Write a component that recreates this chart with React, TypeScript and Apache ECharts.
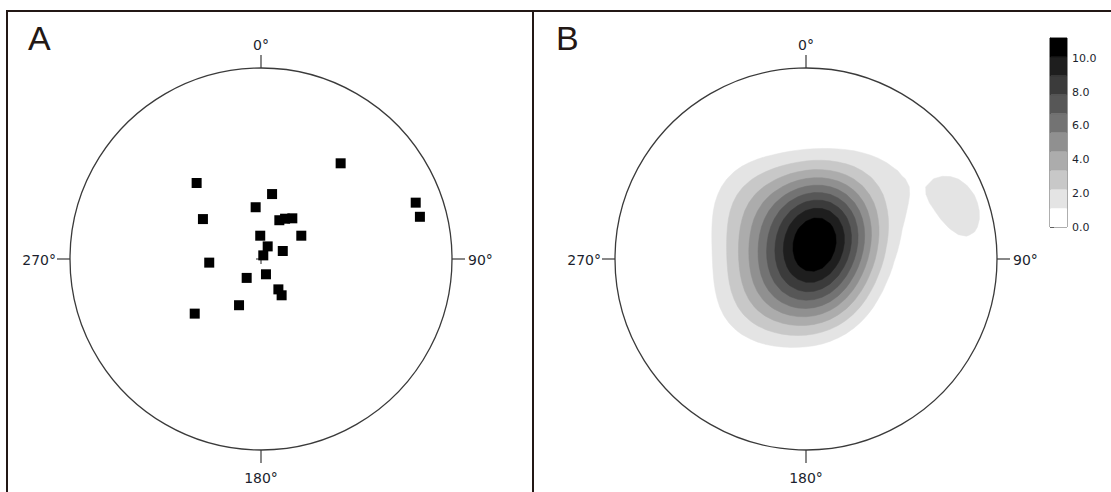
import React, { useEffect, useRef } from 'react';
import * as echarts from 'echarts';

// Panel A: projected pole positions (normalized stereonet coords, unit circle = primitive)
const pointX = [0.417, -0.337, 0.058, -0.028, -0.304, 0.096, 0.126, 0.164, -0.004, 0.211, 0.035, 0.114, 0.012, -0.271, -0.075, 0.026, 0.091, 0.108, -0.115, -0.347, 0.81, 0.832];
const pointY = [0.501, 0.398, 0.34, 0.271, 0.209, 0.203, 0.211, 0.213, 0.122, 0.122, 0.066, 0.042, 0.019, -0.019, -0.099, -0.08, -0.159, -0.19, -0.242, -0.286, 0.295, 0.221];

// Compass labels: N, E, S, W
const angleLabels = ['0°', '90°', '180°', '270°'];
const panelLabels = ['A', 'B'];

// Panel B: contour levels and fills (colour bar)
const contourLevels = [0, 1.12, 2.24, 3.36, 4.48, 5.6, 6.72, 7.84, 8.96, 10.08, 11.2];
const bandColors = ['#ffffff', '#e4e4e4', '#c8c8c8', '#acacac', '#909090', '#737373', '#575757', '#3b3b3b', '#1e1e1e', '#000000'];
const colorbarTicks = [0, 2, 4, 6, 8, 10];
// exponential-Kamb smoothing parameters
const SIGMA = 2;
const COUNT_OFFSET = 0.78;

const GRID_N = 51;
const GRID_MIN = -1.05;
const GRID_MAX = 1.05;

// lower-hemisphere equal-area back-projection
function toVec(x: number, y: number): number[] {
  const r = Math.hypot(x, y);
  if (r === 0) return [0, 0, -1];
  const th = 2 * Math.asin(Math.min(r, 1) / Math.SQRT2);
  const s = Math.sin(th);
  return [(s * x) / r, (s * y) / r, -Math.cos(th)];
}

function densityGrid() {
  const n = pointX.length;
  const f = 2 * (1 + n / (SIGMA * SIGMA));
  const units = Math.sqrt((n * (f / 2 - 1)) / (f * f));
  const pv = pointX.map((x, i) => toVec(x, pointY[i]));
  const g: number[] = [];
  for (let k = 0; k < GRID_N; k++) g.push(GRID_MIN + ((GRID_MAX - GRID_MIN) * k) / (GRID_N - 1));
  const vals: number[][] = [];
  for (let j = 0; j < GRID_N; j++) {
    const row: number[] = [];
    for (let i = 0; i < GRID_N; i++) {
      const x = g[i];
      const y = g[j];
      if (Math.hypot(x, y) > 1) {
        row.push(0);
        continue;
      }
      const v = toVec(x, y);
      let sum = 0;
      for (const p of pv) {
        const c = Math.abs(v[0] * p[0] + v[1] * p[1] + v[2] * p[2]);
        sum += Math.exp(f * (c - 1));
      }
      row.push(Math.max(0, (sum - COUNT_OFFSET) / units));
    }
    vals.push(row);
  }
  return { g, vals };
}

function contourLoops(vals: number[][], g: number[], L: number): number[][][] {
  const n = g.length;
  const adj = new Map<number, number[]>();
  const link = (a: number, b: number) => {
    if (!adj.has(a)) adj.set(a, []);
    if (!adj.has(b)) adj.set(b, []);
    adj.get(a)!.push(b);
    adj.get(b)!.push(a);
  };
  const hKey = (i: number, j: number) => (j * n + i) * 2;
  const vKey = (i: number, j: number) => (j * n + i) * 2 + 1;
  const pointOf = (key: number): number[] => {
    const isV = key % 2 === 1;
    const idx = Math.floor(key / 2);
    const j = Math.floor(idx / n);
    const i = idx % n;
    const a = vals[j][i];
    if (!isV) {
      const b = vals[j][i + 1];
      const t = (L - a) / (b - a);
      return [g[i] + t * (g[i + 1] - g[i]), g[j]];
    }
    const b = vals[j + 1][i];
    const t = (L - a) / (b - a);
    return [g[i], g[j] + t * (g[j + 1] - g[j])];
  };
  for (let j = 0; j < n - 1; j++) {
    for (let i = 0; i < n - 1; i++) {
      const v00 = vals[j][i], v10 = vals[j][i + 1], v11 = vals[j + 1][i + 1], v01 = vals[j + 1][i];
      const a = v00 >= L, b = v10 >= L, c = v11 >= L, d = v01 >= L;
      const E: number[] = [];
      const B = hKey(i, j), R = vKey(i + 1, j), T = hKey(i, j + 1), Lf = vKey(i, j);
      if (a !== b) E.push(B);
      if (b !== c) E.push(R);
      if (d !== c) E.push(T);
      if (a !== d) E.push(Lf);
      if (E.length === 2) link(E[0], E[1]);
      else if (E.length === 4) {
        const center = (v00 + v10 + v11 + v01) / 4 >= L;
        if (a) {
          if (center) { link(B, R); link(T, Lf); } else { link(B, Lf); link(R, T); }
        } else {
          if (center) { link(B, Lf); link(R, T); } else { link(B, R); link(T, Lf); }
        }
      }
    }
  }
  const visited = new Set<number>();
  const loops: number[][][] = [];
  for (const start of adj.keys()) {
    if (visited.has(start)) continue;
    const loop: number[][] = [];
    let prev = -1;
    let cur = start;
    while (true) {
      visited.add(cur);
      loop.push(pointOf(cur));
      const nb = adj.get(cur)!;
      const next = nb[0] === prev ? nb[1] : nb[0];
      if (next === undefined || visited.has(next)) break;
      prev = cur;
      cur = next;
    }
    if (loop.length > 2) loops.push(loop);
  }
  return loops;
}

const TEXT = '#1c1f2e';
const LINE = '#3a3a3a';
const FRAME = '#231815';

function frameRenderer(withCross: boolean) {
  return (params: any, api: any) => {
    const c = api.coord([0, 0]);
    const r = api.coord([1, 0])[0] - c[0];
    const cx = c[0];
    const cy = c[1];
    const lineStyle = { stroke: LINE, lineWidth: 1.2 };
    const font = { fontSize: 14, fontFamily: 'DejaVu Sans', fill: TEXT };
    const children: any[] = [
      { type: 'circle', shape: { cx, cy, r }, style: { fill: 'none', stroke: LINE, lineWidth: 1.3 } },
      { type: 'line', shape: { x1: cx, y1: cy - r, x2: cx, y2: cy - r - 13 }, style: lineStyle },
      { type: 'line', shape: { x1: cx + r, y1: cy, x2: cx + r + 13, y2: cy }, style: lineStyle },
      { type: 'line', shape: { x1: cx, y1: cy + r, x2: cx, y2: cy + r + 13 }, style: lineStyle },
      { type: 'line', shape: { x1: cx - r, y1: cy, x2: cx - r - 13, y2: cy }, style: lineStyle },
      { type: 'text', style: { ...font, text: angleLabels[0], x: cx, y: cy - r - 23, align: 'center', verticalAlign: 'middle' } },
      { type: 'text', style: { ...font, text: angleLabels[1], x: cx + r + 16, y: cy + 1, align: 'left', verticalAlign: 'middle' } },
      { type: 'text', style: { ...font, text: angleLabels[2], x: cx, y: cy + r + 28, align: 'center', verticalAlign: 'middle' } },
      { type: 'text', style: { ...font, text: angleLabels[3], x: cx - r - 14, y: cy + 1, align: 'right', verticalAlign: 'middle' } },
    ];
    if (withCross) {
      children.push({ type: 'line', shape: { x1: cx - 5, y1: cy, x2: cx + 5, y2: cy }, style: { stroke: '#222', lineWidth: 1 } });
      children.push({ type: 'line', shape: { x1: cx, y1: cy - 5, x2: cx, y2: cy + 5 }, style: { stroke: '#222', lineWidth: 1 } });
    }
    return { type: 'group', children };
  };
}

export default function App() {
  const ref = useRef<HTMLDivElement>(null);
  useEffect(() => {
    if (!ref.current) return;
    const chart = echarts.init(ref.current, null, { renderer: 'svg' });
    const { g, vals } = densityGrid();
    const polys: { pts: number[][]; color: string }[] = [];
    for (let k = 1; k < bandColors.length; k++) {
      contourLoops(vals, g, contourLevels[k]).forEach((pts) => polys.push({ pts, color: bandColors[k] }));
    }
    const bands = contourLevels.slice(0, -1).map((lo, k) => [0.5, lo, contourLevels[k + 1]]);
    const hiddenAxis = { type: 'value', min: -1, max: 1, show: false };

    const option: any = {
      animation: false,
      backgroundColor: '#ffffff',
      grid: [
        { left: 70, top: 68, width: 382, height: 382 },
        { left: 615, top: 68, width: 382, height: 382 },
        { left: 1050, top: 38, width: 17, height: 189, show: true, borderColor: '#444', borderWidth: 1, backgroundColor: 'transparent' },
      ],
      xAxis: [
        { ...hiddenAxis, gridIndex: 0 },
        { ...hiddenAxis, gridIndex: 1 },
        { type: 'value', gridIndex: 2, min: 0, max: 1, show: false },
      ],
      yAxis: [
        { ...hiddenAxis, gridIndex: 0 },
        { ...hiddenAxis, gridIndex: 1 },
        {
          type: 'value',
          gridIndex: 2,
          min: 0,
          max: contourLevels[contourLevels.length - 1],
          position: 'right',
          offset: 2,
          splitLine: { show: false },
          axisLine: { show: true, lineStyle: { color: '#444', width: 1 } },
          axisTick: { show: true, length: 4, customValues: colorbarTicks, lineStyle: { color: '#444' } },
          axisLabel: {
            customValues: colorbarTicks,
            formatter: (v: number) => v.toFixed(1),
            fontSize: 11,
            fontFamily: 'DejaVu Sans',
            color: TEXT,
            margin: 3,
          },
        },
      ],
      graphic: [
        { type: 'line', shape: { x1: 6, y1: 11, x2: 1111, y2: 11 }, style: { stroke: FRAME, lineWidth: 2 } },
        { type: 'line', shape: { x1: 7, y1: 10, x2: 7, y2: 492 }, style: { stroke: FRAME, lineWidth: 2 } },
        { type: 'line', shape: { x1: 533, y1: 10, x2: 533, y2: 492 }, style: { stroke: FRAME, lineWidth: 2 } },
        { type: 'text', x: 28, y: 38, style: { text: panelLabels[0], fontSize: 34, fontFamily: 'Liberation Sans', fill: FRAME, verticalAlign: 'middle' } },
        { type: 'text', x: 556, y: 38, style: { text: panelLabels[1], fontSize: 34, fontFamily: 'Liberation Sans', fill: FRAME, verticalAlign: 'middle' } },
      ],
      series: [
        {
          type: 'custom',
          xAxisIndex: 1,
          yAxisIndex: 1,
          silent: true,
          data: polys.map((p) => [p.pts[0][0], p.pts[0][1]]),
          renderItem: (params: any, api: any) => {
            const poly = polys[params.dataIndex];
            return {
              type: 'polygon',
              shape: { points: poly.pts.map((p) => api.coord(p)) },
              style: { fill: poly.color, stroke: poly.color, lineWidth: 0.5 },
            };
          },
        },
        { type: 'custom', xAxisIndex: 0, yAxisIndex: 0, silent: true, data: [[0, 0]], renderItem: frameRenderer(true) },
        { type: 'custom', xAxisIndex: 1, yAxisIndex: 1, silent: true, data: [[0, 0]], renderItem: frameRenderer(false) },
        {
          type: 'scatter',
          xAxisIndex: 0,
          yAxisIndex: 0,
          silent: true,
          symbol: 'rect',
          symbolSize: 10,
          itemStyle: { color: '#000000', opacity: 1 },
          data: pointX.map((x, i) => [x, pointY[i]]),
        },
        {
          type: 'custom',
          xAxisIndex: 2,
          yAxisIndex: 2,
          silent: true,
          data: bands,
          renderItem: (params: any, api: any) => {
            const p0 = api.coord([0, api.value(1)]);
            const p1 = api.coord([1, api.value(2)]);
            return {
              type: 'rect',
              shape: { x: p0[0], y: p1[1], width: p1[0] - p0[0], height: p0[1] - p1[1] },
              style: { fill: bandColors[params.dataIndex], stroke: bandColors[params.dataIndex], lineWidth: 0.3 },
            };
          },
        },
      ],
    };
    chart.setOption(option);
    return () => chart.dispose();
  }, []);
  return <div ref={ref} style={{ position: 'absolute', left: 0, top: 0, width: 1111, height: 492 }} />;
}
